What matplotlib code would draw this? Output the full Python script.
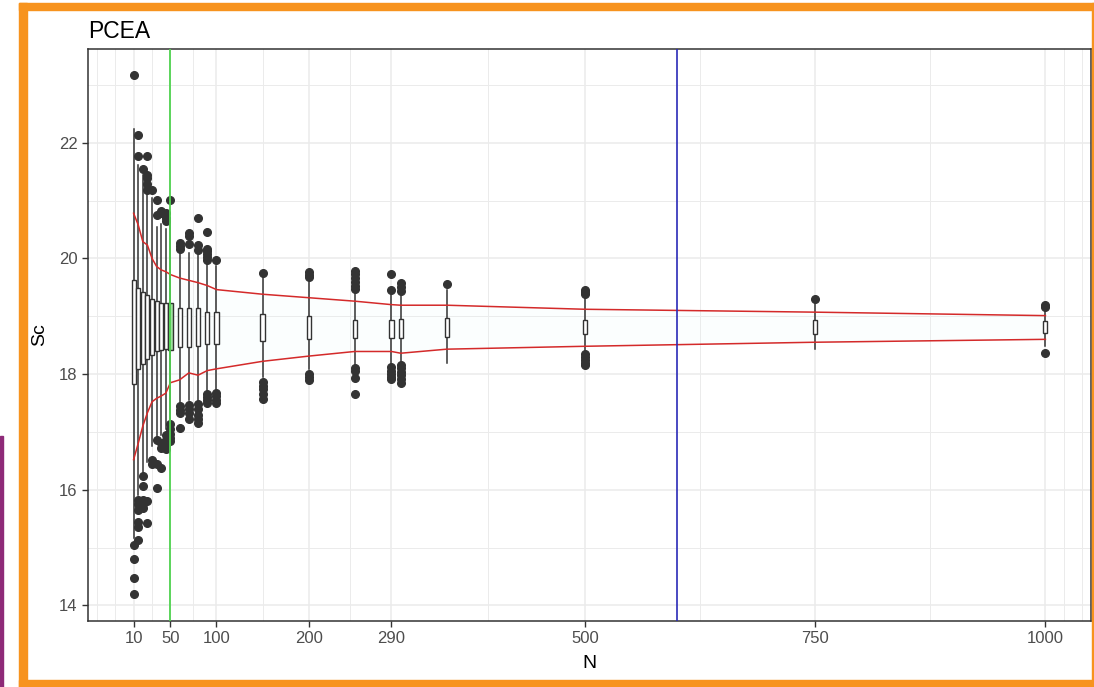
import numpy as np
import matplotlib.pyplot as plt
from matplotlib.patches import Rectangle

plt.rcParams['font.family'] = ['Liberation Sans', 'DejaVu Sans']

# sample sizes (x positions of the boxes)
N = [10, 15, 20, 25, 30, 35, 40, 45, 50, 60, 70, 80, 90, 100,
     150, 200, 250, 290, 300, 350, 500, 750, 1000]

# box stats
q1 = [17.82, 18.09, 18.17, 18.26, 18.33, 18.39, 18.42, 18.43, 18.41, 18.46, 18.46, 18.49, 18.52, 18.52,
      18.57, 18.60, 18.62, 18.62, 18.63, 18.64, 18.70, 18.70, 18.71]
med = [18.75, 18.78, 18.78, 18.78, 18.75, 18.78, 18.82, 18.80, 18.79, 18.78, 18.82, 18.82, 18.78, 18.79,
       18.82, 18.82, 18.82, 18.80, 18.80, 18.82, 18.81, 18.81, 18.81]
q3 = [19.63, 19.49, 19.42, 19.36, 19.29, 19.26, 19.23, 19.23, 19.22, 19.14, 19.14, 19.14, 19.07, 19.07,
      19.04, 19.01, 18.94, 18.94, 18.95, 18.97, 18.94, 18.93, 18.91]
whisk_hi = [22.23, 21.62, 21.45, 21.15, 21.04, 20.55, 20.60, 20.50, 20.70, 20.12, 20.09, 20.06, 19.92, 19.86,
            19.70, 19.60, 19.42, 19.36, 19.38, 19.45, 19.33, 19.22, 19.10]
whisk_lo = [15.16, 15.91, 16.30, 16.48, 16.75, 16.90, 16.95, 17.05, 17.20, 17.51, 17.55, 17.55, 17.72, 17.74,
            17.95, 18.08, 18.15, 18.16, 18.20, 18.19, 18.40, 18.43, 18.49]

out_hi = [[23.17], [22.13, 21.77], [21.54], [21.77, 21.45, 21.39, 21.28, 21.19], [21.18],
          [21.01, 20.75], [20.82, 20.78], [20.78, 20.70, 20.64], [21.01],
          [20.26, 20.22, 20.17], [20.43, 20.38, 20.24], [20.70, 20.23, 20.14],
          [20.45, 20.17, 20.12, 20.07, 20.02, 19.97], [19.98],
          [19.75], [19.77, 19.72, 19.67], [19.78, 19.73, 19.66, 19.60, 19.52, 19.47],
          [19.73, 19.45], [19.57, 19.50, 19.43], [19.55], [19.46, 19.42, 19.38], [19.29], [19.20, 19.16]]
out_lo = [[15.04, 14.81, 14.48, 14.19], [15.83, 15.75, 15.65, 15.45, 15.36, 15.13],
          [16.24, 16.06, 15.83, 15.75, 15.68], [15.80, 15.42], [16.52, 16.45],
          [16.86, 16.45, 16.03], [16.80, 16.72, 16.38], [16.95, 16.86, 16.78, 16.70],
          [17.13, 17.05, 16.97, 16.90, 16.84], [17.45, 17.38, 17.32, 17.07],
          [17.47, 17.40, 17.32, 17.22], [17.48, 17.40, 17.30, 17.22, 17.16],
          [17.66, 17.60, 17.55, 17.50], [17.68, 17.62, 17.55, 17.50],
          [17.86, 17.80, 17.74, 17.66, 17.57], [18.00, 17.95, 17.90],
          [18.10, 18.06, 17.93, 17.66], [18.12, 18.06, 18.00, 17.95, 17.91],
          [18.15, 18.10, 18.04, 17.98, 17.92, 17.84], [], [18.35, 18.30, 18.24, 18.19, 18.15], [], [18.37]]

# red bound lines
upper = [20.78, 20.58, 20.29, 20.23, 20.00, 19.86, 19.80, 19.77, 19.72, 19.66, 19.62, 19.58, 19.53, 19.46,
         19.38, 19.32, 19.26, 19.20, 19.19, 19.19, 19.12, 19.07, 19.01]
lower = [16.52, 16.80, 17.10, 17.33, 17.52, 17.58, 17.62, 17.67, 17.85, 17.90, 18.02, 17.98, 18.06, 18.09,
         18.22, 18.31, 18.39, 18.39, 18.36, 18.43, 18.48, 18.55, 18.60]

x_breaks = [10, 50, 100, 200, 290, 500, 750, 1000]
x_minor = [-30, -10, 30, 75, 150, 245, 395, 625, 875, 1020, 1040]
y_breaks = [14, 16, 18, 20, 22]
y_minor = [15, 17, 19, 21, 23]
vline_green = 50
vline_blue = 600

W, H = 1094, 687
fig = plt.figure(figsize=(W / 100, H / 100), dpi=100)
ax = fig.add_axes([88 / W, 66 / H, (1091 - 88) / W, (621 - 49) / H])

# grid
for v in x_minor:
    ax.axvline(v, color='#ebebeb', lw=0.7, zorder=0)
for v in x_breaks:
    ax.axvline(v, color='#ebebeb', lw=1.1, zorder=0)
for v in y_minor:
    ax.axhline(v, color='#ebebeb', lw=0.7, zorder=0)
for v in y_breaks:
    ax.axhline(v, color='#ebebeb', lw=1.1, zorder=0)

stats = []
for i in range(len(N)):
    stats.append(dict(q1=q1[i], med=med[i], q3=q3[i], whislo=whisk_lo[i], whishi=whisk_hi[i],
                      fliers=out_hi[i] + out_lo[i]))

bp = ax.bxp(stats, positions=N, widths=4.5, showcaps=False, patch_artist=True, manage_ticks=False,
            boxprops=dict(facecolor='white', edgecolor='#333333', linewidth=1.0),
            whiskerprops=dict(color='#333333', linewidth=1.1),
            medianprops=dict(color='#1a1a1a', linewidth=1.8),
            flierprops=dict(marker='o', markersize=5.5, markerfacecolor='#333333',
                            markeredgecolor='#333333'))
for n, b in zip(N, bp['boxes']):
    b.set_zorder(3)
    if n == 50:
        b.set_facecolor('#9ee09e')

ax.fill_between(N, lower, upper, color='#e6f7f7', alpha=0.12, lw=0, zorder=1)
ax.plot(N, upper, color='#d42a2a', lw=1.1, zorder=4)
ax.plot(N, lower, color='#d42a2a', lw=1.1, zorder=4)
ax.axvline(vline_green, color='#4fd34f', lw=1.3, zorder=5)
ax.axvline(vline_blue, color='#2a2ab8', lw=1.2, zorder=5)

ax.set_xlim(-39.5, 1049.5)
ax.set_ylim(13.73, 23.62)
ax.set_xticks(x_breaks)
ax.set_xticklabels([str(v) for v in x_breaks])
ax.set_yticks(y_breaks)
ax.tick_params(colors='#333333', labelcolor='#4d4d4d', labelsize=12, length=4, width=1)
for s in ax.spines.values():
    s.set_color('#333333')
    s.set_linewidth(1.1)

ax.set_xlabel('N', fontsize=14, color='black', labelpad=6)
ax.set_ylabel('Sc', fontsize=14, color='black', labelpad=8)
fig.text(88 / W, 1 - 32 / H, 'PCEA', fontsize=16.5, color='black', ha='left', va='center')

# screenshot frame
orange = '#f7931e'
fig.patches.append(Rectangle((19 / W, 0), 8 / W, 1 - 3 / H, transform=fig.transFigure, color=orange))
fig.patches.append(Rectangle((19 / W, 1 - 10 / H), 1, 7 / H, transform=fig.transFigure, color=orange))
fig.patches.append(Rectangle((19 / W, 0), 1, 7 / H, transform=fig.transFigure, color=orange))
fig.patches.append(Rectangle((1092 / W, 0), 8 / W, 1 - 3 / H, transform=fig.transFigure, color=orange))
fig.patches.append(Rectangle((0, 0), 3 / W, (H - 436) / H, transform=fig.transFigure, color='#8e2a78'))

fig.savefig('out.png', dpi=100)
